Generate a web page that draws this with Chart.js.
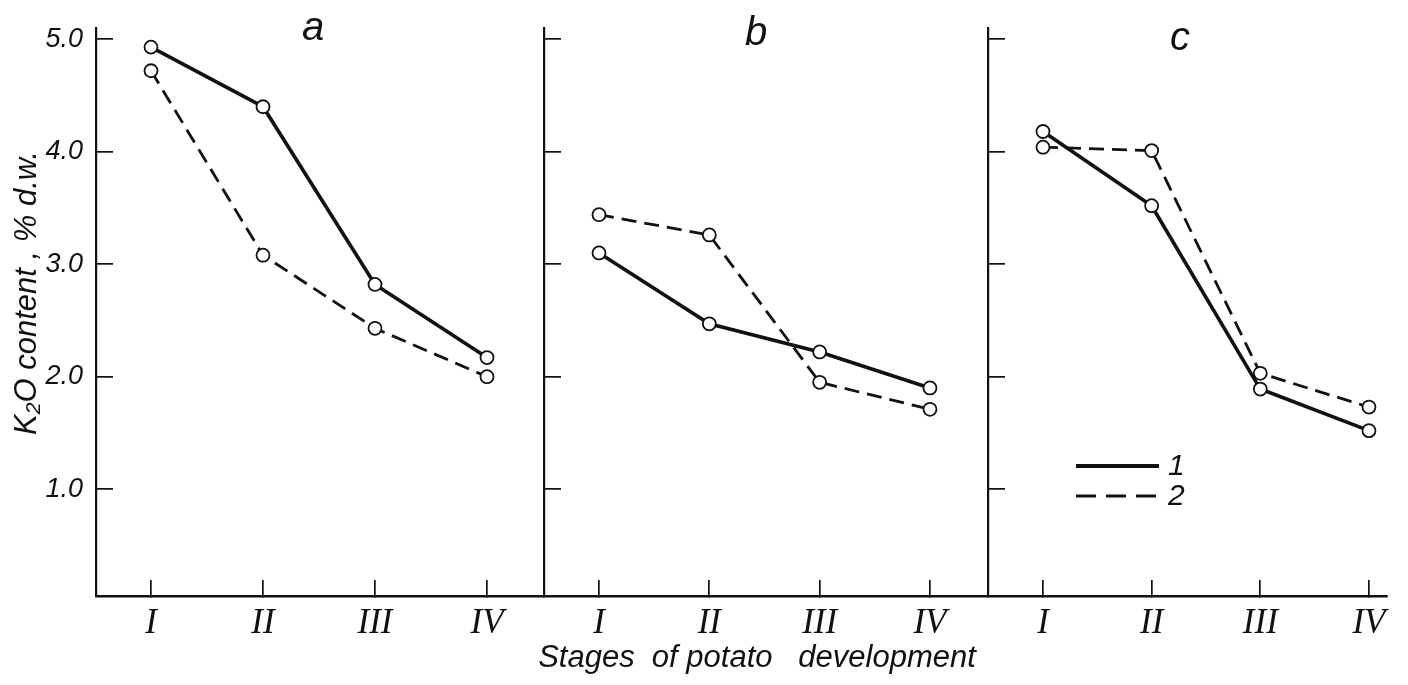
<!DOCTYPE html>
<html><head><meta charset="utf-8">
<script src="https://cdn.jsdelivr.net/npm/chart.js@4.4.0/dist/chart.umd.min.js"></script>
<style>
html,body{margin:0;padding:0;background:#fff;}
#wrap{position:relative;width:1408px;height:685px;overflow:hidden;background:#fff;}
canvas{position:absolute;left:0;top:0;}
</style></head><body>
<div id="wrap">
<canvas id="ca" width="1408" height="685"></canvas>
<canvas id="cb" width="1408" height="685"></canvas>
<canvas id="cc" width="1408" height="685"></canvas>
</div>
<script>
// ---- data ----
const stages = ['I', 'II', 'III', 'IV'];
const yTicks = [1.0, 2.0, 3.0, 4.0, 5.0];
const panelNames = ['a', 'b', 'c'];
const seriesNames = ['1', '2'];
const a1 = [4.93, 4.40, 2.82, 2.17];
const a2 = [4.72, 3.08, 2.43, 2.00];
const b1 = [3.10, 2.47, 2.22, 1.90];
const b2 = [3.44, 3.26, 1.95, 1.71];
const c1 = [4.18, 3.52, 1.89, 1.52];
const c2 = [4.04, 4.01, 2.03, 1.73];
const yTitle = 'K\u2082O content , % d.w.';
const xTitle = 'Stages  of potato   development';

const SANS = '"Liberation Sans", Arial, sans-serif';
const SERIF = '"Liberation Serif", "Times New Roman", serif';
const INK = '#111';

const solidStyle = { borderColor: INK, borderWidth: 3.6, borderDash: [] };
const dashStyle = { borderColor: INK, borderWidth: 2.8, borderDash: [15, 8] };

const textPlugin = {
  id: 'panelText',
  afterDraw(chart, args, opts) {
    const ctx = chart.ctx;
    ctx.save();
    ctx.fillStyle = INK;
    ctx.font = 'italic 40px ' + SANS;
    ctx.textAlign = 'center';
    ctx.textBaseline = 'alphabetic';
    ctx.fillText(opts.letter, opts.letterX, opts.letterY);
    if (opts.yTitle) {
      ctx.save();
      ctx.translate(27, 293);
      ctx.rotate(-Math.PI / 2);
      ctx.font = 'italic 31px ' + SANS;
      ctx.textAlign = 'center';
      ctx.textBaseline = 'middle';
      ctx.fillText(yTitle, 0, 0);
      ctx.restore();
    }
    if (opts.xTitle) {
      ctx.font = 'italic 31px ' + SANS;
      ctx.textAlign = 'center';
      ctx.textBaseline = 'alphabetic';
      ctx.fillText(xTitle, 757, 667);
    }
    if (opts.legend) {
      const styles = [solidStyle, dashStyle];
      const ys = [466, 496];
      seriesNames.forEach((name, i) => {
        ctx.save();
        ctx.strokeStyle = INK;
        ctx.lineWidth = styles[i].borderWidth + 0.4;
        ctx.setLineDash(i === 0 ? [] : [20, 10]);
        ctx.beginPath();
        ctx.moveTo(1076, ys[i]);
        ctx.lineTo(1159, ys[i]);
        ctx.stroke();
        ctx.restore();
        ctx.font = 'italic 30px ' + SANS;
        ctx.textAlign = 'left';
        ctx.textBaseline = 'middle';
        ctx.fillText(name, 1168, ys[i] + 1);
      });
    }
    ctx.restore();
  }
};

function makeDataset(vals, idx) {
  const st = idx === 0 ? solidStyle : dashStyle;
  return {
    label: seriesNames[idx],
    data: vals.map((v, i) => ({ x: i + 1, y: v })),
    borderColor: st.borderColor,
    borderWidth: st.borderWidth,
    borderDash: st.borderDash,
    pointRadius: 6.5,
    pointBorderWidth: 1.8,
    pointBackgroundColor: '#fff',
    pointBorderColor: INK,
    tension: 0,
    fill: false
  };
}

function makePanel(id, s1, s2, cfg) {
  return new Chart(document.getElementById(id), {
    type: 'line',
    data: { datasets: [makeDataset(s2, 1), makeDataset(s1, 0)] },
    options: {
      responsive: false,
      animation: false,
      events: [],
      layout: { padding: { left: 0, right: cfg.padRight, top: 28, bottom: 0 } },
      plugins: {
        legend: { display: false },
        tooltip: { enabled: false },
        panelText: cfg.text
      },
      scales: {
        x: {
          type: 'linear',
          min: cfg.xmin,
          max: cfg.xmax,
          afterFit(s) { s.height = 89; s.paddingLeft = 0; s.paddingRight = 0; },
          afterBuildTicks(s) { s.ticks = stages.map((_, i) => ({ value: i + 1 })); },
          grid: { drawOnChartArea: false, drawTicks: true, tickLength: -16, color: INK, lineWidth: 1.7 },
          border: { display: true, color: INK, width: 2.4 },
          ticks: {
            padding: 23,
            color: INK,
            maxRotation: 0,
            font: { family: SERIF, style: 'italic', size: 35 },
            callback: (v) => stages[v - 1] || ''
          }
        },
        y: {
          type: 'linear',
          min: 0.05,
          max: 5.1,
          afterFit(s) { s.width = cfg.yWidth; s.paddingTop = 0; s.paddingBottom = 0; },
          afterBuildTicks(s) { s.ticks = yTicks.map(v => ({ value: v })); },
          grid: { drawOnChartArea: false, drawTicks: true, tickLength: -17, color: INK, lineWidth: 1.7 },
          border: { display: true, color: INK, width: 2.2 },
          ticks: {
            display: cfg.yLabels,
            padding: 30,
            color: INK,
            font: { family: SANS, style: 'italic', size: 27 },
            callback: (v) => Number(v).toFixed(1)
          }
        }
      }
    },
    plugins: [textPlugin]
  });
}

makePanel('ca', a1, a2, {
  padRight: 1408 - 544, yWidth: 96, xmin: 0.509, xmax: 4.509, yLabels: true,
  text: { letter: panelNames[0], letterX: 313, letterY: 40, yTitle: true }
});
makePanel('cb', b1, b2, {
  padRight: 1408 - 988, yWidth: 544, xmin: 0.5015, xmax: 4.526, yLabels: false,
  text: { letter: panelNames[1], letterX: 756, letterY: 45, xTitle: true }
});
makePanel('cc', c1, c2, {
  padRight: 1408 - 1387, yWidth: 988, xmin: 0.494, xmax: 4.166, yLabels: false,
  text: { letter: panelNames[2], letterX: 1180, letterY: 50, legend: true }
});
</script>
</body></html>
